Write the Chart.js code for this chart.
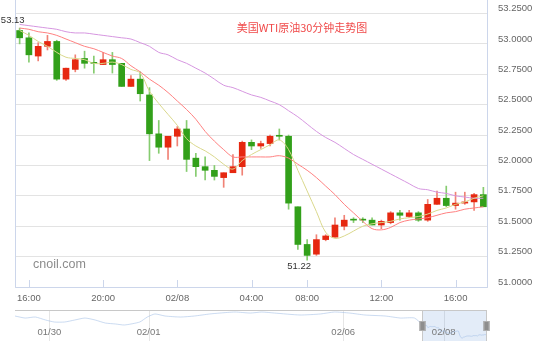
<!DOCTYPE html>
<html lang="zh-CN">
<head>
  <meta charset="UTF-8" />
  <title>美国WTI原油30分钟走势图</title>
  <script src="https://cdn.jsdelivr.net/npm/chart.js"></script>
  <style>
    body {
      margin: 0;
      background: #fff;
    }
    #wrap {
      position: relative;
      width: 550px;
      height: 341px;
      overflow: hidden;
    }
    #mainChart { position: absolute; left: 0; top: 0; }
    #navChart { position: absolute; left: 0; top: 305px; }
  </style>
</head>
<body>
  <div id="wrap">
    <canvas id="mainChart" width="550" height="305"></canvas>
    <canvas id="navChart" width="550" height="36"></canvas>
  </div>

  <script>
    // 30-minute bars, 02/07 15:30 -> 02/08 17:30
    const times = [
      "15:30", "16:00", "16:30", "17:00", "17:30", "18:00", "18:30", "19:00", "19:30", "20:00",
      "20:30", "21:00", "21:30", "22:00", "22:30", "23:00", "23:30", "00:00", "00:30", "01:00",
      "01:30", "02:00", "02:30", "03:00", "03:30", "04:00", "04:30", "06:00", "06:30", "07:00",
      "07:30", "08:00", "08:30", "09:00", "09:30", "10:00", "10:30", "11:00", "11:30", "12:00",
      "12:30", "13:00", "13:30", "14:00", "14:30", "15:00", "15:30", "16:00", "16:30", "17:00",
      "17:30"
    ];
    const opens = [
      53.11, 53.05, 52.90, 52.98, 53.02, 52.71, 52.79, 52.88, 52.84, 52.83,
      52.87, 52.84, 52.65, 52.71, 52.58, 52.26, 52.15, 52.24, 52.30, 52.06,
      51.99, 51.96, 51.90, 51.94, 51.99, 52.19, 52.16, 52.18, 52.24, 52.24,
      51.66, 51.35, 51.27, 51.39, 51.41, 51.50, 51.55, 51.55, 51.55, 51.51,
      51.53, 51.61, 51.58, 51.61, 51.55, 51.68, 51.73, 51.67, 51.69, 51.70,
      51.76
    ];
    const highs = [
      53.13, 53.09, 53.01, 53.07, 53.03, 52.80, 52.91, 52.94, 52.90, 52.93,
      52.93, 52.84, 52.74, 52.77, 52.64, 52.37, 52.24, 52.32, 52.37, 52.10,
      52.07, 52.00, 51.94, 52.09, 52.20, 52.21, 52.20, 52.25, 52.30, 52.25,
      51.66, 51.39, 51.43, 51.43, 51.57, 51.59, 51.57, 51.57, 51.57, 51.55,
      51.62, 51.63, 51.63, 51.62, 51.72, 51.79, 51.83, 51.78, 51.78, 51.77,
      51.82
    ];
    const lows = [
      53.00, 52.85, 52.86, 52.95, 52.70, 52.70, 52.77, 52.80, 52.76, 52.83,
      52.76, 52.65, 52.65, 52.53, 52.04, 52.10, 52.05, 52.16, 51.95, 51.91,
      51.88, 51.88, 51.82, 51.94, 51.92, 52.13, 52.14, 52.16, 52.21, 51.64,
      51.31, 51.22, 51.26, 51.38, 51.41, 51.47, 51.53, 51.53, 51.51, 51.48,
      51.52, 51.55, 51.57, 51.54, 51.54, 51.68, 51.66, 51.64, 51.68, 51.63,
      51.66
    ];
    const closes = [
      53.05, 52.91, 52.98, 53.02, 52.71, 52.80, 52.87, 52.84, 52.84, 52.87,
      52.83, 52.65, 52.71, 52.59, 52.26, 52.15, 52.24, 52.30, 52.05, 51.99,
      51.96, 51.91, 51.94, 51.99, 52.19, 52.16, 52.18, 52.24, 52.24, 51.69,
      51.35, 51.26, 51.39, 51.42, 51.51, 51.55, 51.55, 51.55, 51.51, 51.54,
      51.61, 51.59, 51.61, 51.55, 51.68, 51.73, 51.67, 51.69, 51.70, 51.76,
      51.66
    ];
    // moving average lines
    const maShort = [
      53.11, 53.07, 53.02, 52.98, 52.93, 52.89, 52.88, 52.87, 52.84, 52.84,
      52.85, 52.83, 52.79, 52.76, 52.61, 52.51, 52.42, 52.33, 52.22, 52.16,
      52.12, 52.07, 52.01, 51.97, 52.04, 52.09, 52.13, 52.17, 52.21, 52.13,
      51.96, 51.79, 51.62, 51.45, 51.40, 51.42, 51.46, 51.50, 51.52, 51.53,
      51.54, 51.56, 51.57, 51.58, 51.60, 51.63, 51.65, 51.68, 51.70, 51.73,
      51.75
    ];
    const maMid = [
      53.13, 53.12, 53.10, 53.09, 53.07, 53.04, 53.01, 52.98, 52.96, 52.93,
      52.90, 52.88, 52.82, 52.77, 52.71, 52.66, 52.60, 52.53, 52.46, 52.38,
      52.28, 52.20, 52.13, 52.07, 52.07, 52.07, 52.07, 52.07, 52.08, 52.06,
      52.01, 51.96, 51.90, 51.83, 51.76, 51.68, 51.61, 51.54, 51.48, 51.47,
      51.49, 51.53, 51.55, 51.56, 51.57, 51.59, 51.61, 51.62, 51.64, 51.65,
      51.66
    ];
    const maLong = [
      53.16, 53.15, 53.14, 53.13, 53.12, 53.10, 53.09, 53.09, 53.08, 53.07,
      53.06, 53.05, 53.04, 53.01, 52.98, 52.93, 52.91, 52.87, 52.84, 52.80,
      52.76, 52.71, 52.66, 52.64, 52.61, 52.58, 52.56, 52.53, 52.50, 52.45,
      52.40, 52.34, 52.28, 52.23, 52.19, 52.14, 52.09, 52.05, 52.01, 51.97,
      51.93, 51.89, 51.85, 51.81, 51.80, 51.78, 51.77, 51.75, 51.74, 51.73,
      51.73
    ];

    const yTicks = [51.0, 51.25, 51.5, 51.75, 52.0, 52.25, 52.5, 52.75, 53.0, 53.25];
    const xTickTimes = ["16:00", "20:00", "00:00", "04:00", "08:00", "12:00"];
    const xTickNames = ["16:00", "20:00", "02/08", "04:00", "08:00", "12:00"];

    // navigator (whole history, faint line)
    const navIdx = [0, 8, 16, 24, 31, 39, 47, 55, 63, 71, 79, 86, 98, 104, 110, 118,
      130, 141, 153, 161, 173, 185, 194, 204, 224, 240, 251, 263, 275, 291, 303, 314];
    const navPrice = [54.31, 54.03, 54.17, 53.76, 53.48, 53.48, 53.76, 54.03, 53.76, 53.34,
      53.21, 53.07, 53.48, 54.17, 54.59, 54.31, 54.17, 54.31, 54.59, 54.72, 54.86, 54.72,
      54.86, 54.72, 54.45, 54.59, 54.86, 54.72, 54.45, 54.31, 54.03, 54.03];
    const navTickIdx = [27, 105, 258, 337];
    const navTickLabels = ["01/30", "02/01", "02/06", "02/08"];
    const navWindow = [320, 371];

    const chartTitle = "美国WTI原油30分钟走势图";
    const UP = "rgb(230,40,16)", DOWN = "rgb(50,160,26)";
    const UP_WICK = "rgb(240,130,118)", DOWN_WICK = "rgb(134,204,112)";
    const LABEL_FONT = "9.5px 'Liberation Sans', Arial, sans-serif";

    const isUp = i => closes[i] > opens[i];

    const mainDecor = {
      id: "mainDecor",
      afterDraw(chart) {
        const { ctx, chartArea: a, scales: { x, y } } = chart;
        ctx.save();
        ctx.strokeStyle = "#ccd6eb";
        ctx.lineWidth = 1;
        ctx.beginPath();
        ctx.moveTo(a.left + 0.5, a.top);
        ctx.lineTo(a.left + 0.5, a.bottom + 0.5);
        ctx.lineTo(a.right - 0.5, a.bottom + 0.5);
        ctx.lineTo(a.right - 0.5, a.top);
        ctx.stroke();

        // tick marks pointing inside
        times.forEach((t, i) => {
          if (!xTickTimes.includes(t)) return;
          const px = Math.round(x.getPixelForValue(i)) + 0.5;
          ctx.beginPath();
          ctx.moveTo(px, a.bottom - 7);
          ctx.lineTo(px, a.bottom);
          ctx.stroke();
        });

        // high / low markers
        const hi = Math.max(...highs), hiI = highs.indexOf(hi);
        const lo = Math.min(...lows), loI = lows.indexOf(lo);
        ctx.font = LABEL_FONT;
        ctx.fillStyle = "#333";
        ctx.textBaseline = "middle";
        ctx.textAlign = "right";
        ctx.fillText(hi.toFixed(2), x.getPixelForValue(hiI) + 5, y.getPixelForValue(hi) - 8);
        ctx.textAlign = "center";
        ctx.fillText(lo.toFixed(2), x.getPixelForValue(loI) - 8, y.getPixelForValue(lo) + 6);

        // watermark
        ctx.font = "12.5px 'Liberation Sans', Arial, sans-serif";
        ctx.fillStyle = "#8c8c8c";
        ctx.textAlign = "left";
        ctx.fillText("cnoil.com", 33, 265);

        // title
        ctx.font = "11px 'Noto Sans CJK SC', sans-serif";
        ctx.fillStyle = "#f04a4a";
        ctx.textAlign = "center";
        ctx.fillText(chartTitle, 302, 28);
        ctx.restore();
      }
    };

    new Chart(document.getElementById("mainChart"), {
      type: "bar",
      data: {
        labels: times,
        datasets: [
          {
            type: "line", label: "MA5", data: maShort, order: 0,
            borderColor: "rgb(218,216,140)", borderWidth: 1, pointRadius: 0, tension: 0.35
          },
          {
            type: "line", label: "MA10", data: maMid, order: 0,
            borderColor: "rgb(255,128,128)", borderWidth: 1, pointRadius: 0, tension: 0.35
          },
          {
            type: "line", label: "MA20", data: maLong, order: 0,
            borderColor: "rgb(214,150,224)", borderWidth: 1, pointRadius: 0, tension: 0.35
          },
          {
            label: "body", order: 1, grouped: false,
            data: opens.map((o, i) => [o, closes[i]]),
            backgroundColor: times.map((t, i) => isUp(i) ? UP : DOWN),
            barThickness: 6, minBarLength: 1
          },
          {
            label: "wick", order: 2, grouped: false,
            data: lows.map((l, i) => [l, highs[i]]),
            backgroundColor: times.map((t, i) => isUp(i) ? UP_WICK : DOWN_WICK),
            barThickness: 1
          }
        ]
      },
      options: {
        responsive: false,
        animation: false,
        layout: { padding: { left: 15, right: 0, top: 0, bottom: 0 } },
        plugins: { legend: { display: false }, tooltip: { enabled: false } },
        scales: {
          x: {
            type: "category",
            offset: true,
            grid: { display: false },
            border: { display: false },
            afterFit: s => {
              s.height = 18;
              s.paddingLeft = 0;
              s.paddingRight = 0;
            },
            ticks: {
              autoSkip: false,
              maxRotation: 0,
              padding: -2,
              color: "#666",
              font: { family: "'Liberation Sans', Arial, sans-serif", size: 9.5 },
              callback: (v, i) => {
                const k = xTickTimes.indexOf(times[i]);
                return k < 0 ? null : xTickNames[k];
              }
            }
          },
          y: {
            position: "right",
            min: 51.0,
            max: 53.361,
            afterBuildTicks: s => { s.ticks = yTicks.map(v => ({ value: v })); },
            afterFit: s => {
              s.width = 62;
              s.paddingTop = 0;
              s.paddingBottom = 0;
            },
            grid: { color: "#e3e3e3", drawTicks: false },
            border: { display: false },
            ticks: {
              padding: 10,
              labelOffset: -5,
              color: "#666",
              font: { family: "'Liberation Sans', Arial, sans-serif", size: 9.5 },
              callback: v => Number(v).toFixed(4)
            }
          }
        }
      },
      plugins: [mainDecor]
    });

    // navigator strip
    const navDecor = {
      id: "navDecor",
      beforeDatasetsDraw(chart) {
        const { ctx, chartArea: a, scales: { x } } = chart;
        ctx.save();
        ctx.strokeStyle = "#e6e6e6";
        ctx.lineWidth = 1;
        navTickIdx.forEach(v => {
          const px = Math.round(x.getPixelForValue(v)) + 0.5;
          ctx.beginPath();
          ctx.moveTo(px, a.top);
          ctx.lineTo(px, a.bottom);
          ctx.stroke();
        });
        const s0 = x.getPixelForValue(navWindow[0]), s1 = x.getPixelForValue(navWindow[1]);
        ctx.fillStyle = "rgba(102,150,214,0.18)";
        ctx.fillRect(s0, a.top, s1 - s0, a.bottom - a.top);
        ctx.font = LABEL_FONT;
        ctx.fillStyle = "#777";
        ctx.textAlign = "center";
        ctx.textBaseline = "middle";
        navTickIdx.forEach((v, i) => ctx.fillText(navTickLabels[i], x.getPixelForValue(v), a.top + 22));
        ctx.restore();
      },
      afterDraw(chart) {
        const { ctx, chartArea: a, scales: { x } } = chart;
        const s0 = Math.round(x.getPixelForValue(navWindow[0])) + 0.5;
        const s1 = Math.round(x.getPixelForValue(navWindow[1])) - 0.5;
        ctx.save();
        ctx.strokeStyle = "#c8c8c8";
        ctx.lineWidth = 1;
        ctx.beginPath();
        ctx.moveTo(a.left, a.top + 0.5);
        ctx.lineTo(a.right, a.top + 0.5);
        ctx.moveTo(s0, a.top);
        ctx.lineTo(s0, a.bottom);
        ctx.moveTo(s1, a.top);
        ctx.lineTo(s1, a.bottom);
        ctx.stroke();
        [s0, s1].forEach(px => {
          ctx.fillStyle = "#8e8e8e";
          ctx.fillRect(px - 3, a.top + 11, 6, 10);
          ctx.strokeStyle = "#b0b0b0";
          ctx.strokeRect(px - 2.5, a.top + 11.5, 5, 9);
        });
        ctx.restore();
      }
    };

    const navPoints = navIdx.map((v, i) => ({ x: v, y: navPrice[i] }))
      .concat(closes.map((c, i) => ({ x: navWindow[0] + i + 0.5, y: c })));

    new Chart(document.getElementById("navChart"), {
      type: "line",
      data: {
        datasets: [{
          data: navPoints,
          borderColor: "rgba(160,190,230,0.55)",
          borderWidth: 1,
          pointRadius: 0,
          tension: 0.2
        }]
      },
      options: {
        responsive: false,
        animation: false,
        layout: { padding: { left: 15, right: 63, top: 5, bottom: 0 } },
        plugins: { legend: { display: false }, tooltip: { enabled: false } },
        scales: {
          x: { type: "linear", min: 0, max: navWindow[1], display: false },
          y: { min: 50.86, max: 55.14, display: false }
        }
      },
      plugins: [navDecor]
    });
  </script>
</body>
</html>
